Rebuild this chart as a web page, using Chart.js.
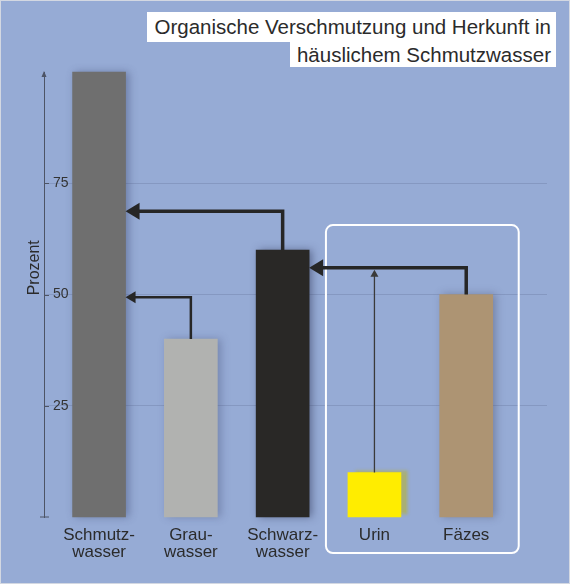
<!DOCTYPE html>
<html>
<head>
<meta charset="utf-8">
<script src="https://cdn.jsdelivr.net/npm/chart.js@4.4.1/dist/chart.umd.min.js"></script>
<style>
  body { margin: 0; }
  #wrap {
    position: relative; width: 570px; height: 584px;
    background: #96abd5; box-sizing: border-box; border: 1px solid #d3d8e2;
  }
  #chart { position: absolute; left: -1px; top: -1px; }
  .ttl {
    position: absolute; right: 13px; background: #fff; color: #2b2b2b;
    font-family: "Liberation Sans", Arial, sans-serif; font-size: 20.5px;
    padding: 0 5px 0 7px; white-space: nowrap;
  }
</style>
</head>
<body>
<div id="wrap">
  <canvas id="chart" width="570" height="584"></canvas>
  <div class="ttl" style="top:11px;line-height:30px">Organische Verschmutzung und Herkunft in</div>
  <div class="ttl" style="top:41px;line-height:25px">häuslichem Schmutzwasser</div>
</div>
<script>
var categories = ["Schmutzwasser", "Grauwasser", "Schwarzwasser", "Urin", "Fäzes"];
var tickLabels = [["Schmutz-", "wasser"], ["Grau-", "wasser"], ["Schwarz-", "wasser"], ["Urin"], ["Fäzes"]];
var percent = [100, 40, 60, 10, 50];
var yTicks = [25, 50, 75];
var yTitle = "Prozent";

// flows: which bar feeds which, and at what height (in %) the connector runs
var linkFrom = ["Schwarzwasser", "Grauwasser", "Fäzes"];
var linkTo = ["Schmutzwasser", "Schmutzwasser", "Schwarzwasser"];
var linkLevel = [68.7, 49.4, 56];
var joinFrom = "Urin";
var joinLevel = 56;
var groupCats = ["Urin", "Fäzes"];
var groupTop = 65.6;

var barColors = ["#6f6f6f", "#b1b2b0", "#292826", "#ffed00", "#ad9473"];
var shadowColors = ["rgba(60,70,110,0.45)", "rgba(60,70,110,0.35)", "rgba(40,45,80,0.5)", "rgba(170,175,110,0.95)", "rgba(70,75,100,0.4)"];
var ink = "#262626";

var arrowHead = function (ctx, x, y, dir, len, half) {
  ctx.beginPath();
  if (dir === "left") {
    ctx.moveTo(x, y); ctx.lineTo(x + len, y - half); ctx.lineTo(x + len, y + half);
  } else {
    ctx.moveTo(x, y); ctx.lineTo(x - half, y + len); ctx.lineTo(x + half, y + len);
  }
  ctx.closePath();
  ctx.fill();
};

var decor = {
  id: "decor",
  beforeDatasetDraw: function (chart, args) {
    var ctx = chart.ctx;
    args.meta.data.forEach(function (bar, i) {
      ctx.save();
      ctx.shadowColor = shadowColors[i];
      ctx.shadowBlur = i === 3 ? 3 : 8;
      ctx.shadowOffsetX = i === 3 ? 7 : 3;
      ctx.shadowOffsetY = i === 3 ? -2 : 0;
      bar.draw(ctx, chart.chartArea);
      ctx.restore();
    });
    return false;
  },
  afterDraw: function (chart) {
    var ctx = chart.ctx, area = chart.chartArea;
    var y = chart.scales.y;
    var bars = chart.getDatasetMeta(0).data;
    var bar = function (name) { return bars[categories.indexOf(name)]; };
    ctx.save();

    // axis title, placed a bit above the middle like the original
    ctx.save();
    ctx.translate(area.left - 9, y.getPixelForValue(56));
    ctx.rotate(-Math.PI / 2);
    ctx.fillStyle = "#2b2b2b";
    ctx.font = "16px 'Liberation Sans'";
    ctx.textAlign = "center";
    ctx.textBaseline = "middle";
    ctx.fillText(yTitle, 0, 0);
    ctx.restore();

    // y axis arrow tip, baseline tick and tick marks
    ctx.fillStyle = "#4d5466";
    ctx.strokeStyle = "#4d5466";
    ctx.lineWidth = 1;
    arrowHead(ctx, area.left, area.top - 1, "up", 6, 2.5);
    ctx.beginPath();
    ctx.moveTo(area.left - 4, area.bottom); ctx.lineTo(area.left + 5, area.bottom);
    yTicks.forEach(function (v) {
      var p = Math.round(y.getPixelForValue(v)) + 0.5;
      ctx.moveTo(area.left, p); ctx.lineTo(area.left + 5, p);
    });
    ctx.stroke();

    // white frame round the group
    var g0 = bar(groupCats[0]), g1 = bar(groupCats[groupCats.length - 1]);
    var gx0 = g0.x - g0.width / 2 - 22, gx1 = g1.x + g1.width / 2 + 26;
    var gy0 = y.getPixelForValue(groupTop), gy1 = area.bottom + 36;
    ctx.strokeStyle = "#ffffff";
    ctx.lineWidth = 2;
    ctx.beginPath();
    ctx.roundRect(gx0, gy0, gx1 - gx0, gy1 - gy0, 7);
    ctx.stroke();

    // flow connectors
    ctx.strokeStyle = ink;
    ctx.fillStyle = ink;
    ctx.lineJoin = "miter";
    linkFrom.forEach(function (name, i) {
      var a = bar(name), b = bar(linkTo[i]);
      var ly = y.getPixelForValue(linkLevel[i]);
      var thin = name === "Grauwasser";
      var tipX = b.x + b.width / 2;
      var head = thin ? 10 : 14;
      ctx.lineWidth = thin ? 2.5 : 3.5;
      ctx.beginPath();
      ctx.moveTo(a.x, a.y);
      ctx.lineTo(a.x, ly);
      ctx.lineTo(tipX + head - 1, ly);
      ctx.stroke();
      arrowHead(ctx, tipX, ly, "left", head, thin ? 6 : 8.5);
    });

    var u = bar(joinFrom);
    var jy = y.getPixelForValue(joinLevel) + 2;
    ctx.lineWidth = 1.3;
    ctx.strokeStyle = "#3a3a3a";
    ctx.fillStyle = "#3a3a3a";
    ctx.beginPath();
    ctx.moveTo(u.x, u.y);
    ctx.lineTo(u.x, jy + 6);
    ctx.stroke();
    arrowHead(ctx, u.x, jy, "up", 7, 4);
    ctx.restore();
  }
};

var ctx = document.getElementById("chart");
var myChart = new Chart(ctx, {
  type: "bar",
  data: {
    datasets: [{
      data: percent.map(function (v, i) { return { x: i, y: v }; }),
      backgroundColor: barColors,
      barThickness: 53,
      borderWidth: 0
    }]
  },
  options: {
    responsive: false,
    animation: false,
    layout: { padding: { left: 26, top: 72, right: 23, bottom: 7 } },
    plugins: { legend: { display: false }, tooltip: { enabled: false } },
    scales: {
      x: {
        type: "linear",
        offset: false,
        min: -0.6,
        max: 4.88,
        afterBuildTicks: function (s) { s.ticks = categories.map(function (c, i) { return { value: i }; }); },
        afterFit: function (s) { s.height = 60; },
        grid: { display: false, offset: false },
        border: { display: false },
        ticks: {
          autoSkip: false,
          maxRotation: 0,
          padding: 2,
          color: "#2b2b2b",
          font: { family: "Liberation Sans", size: 17, lineHeight: 1.0 },
          callback: function (v) { return tickLabels[v] || ""; }
        }
      },
      y: {
        min: 0,
        max: 100,
        afterBuildTicks: function (s) { s.ticks = yTicks.map(function (v) { return { value: v }; }); },
        afterFit: function (s) { s.width = 18; },
        border: { display: true, color: "#4d5466", width: 1 },
        grid: { color: "rgba(95,110,150,0.3)", drawTicks: false },
        ticks: {
          mirror: true,
          padding: 9,
          color: "#333333",
          font: { family: "Liberation Sans", size: 14 }
        }
      }
    }
  },
  plugins: [decor]
});
</script>
</body>
</html>
